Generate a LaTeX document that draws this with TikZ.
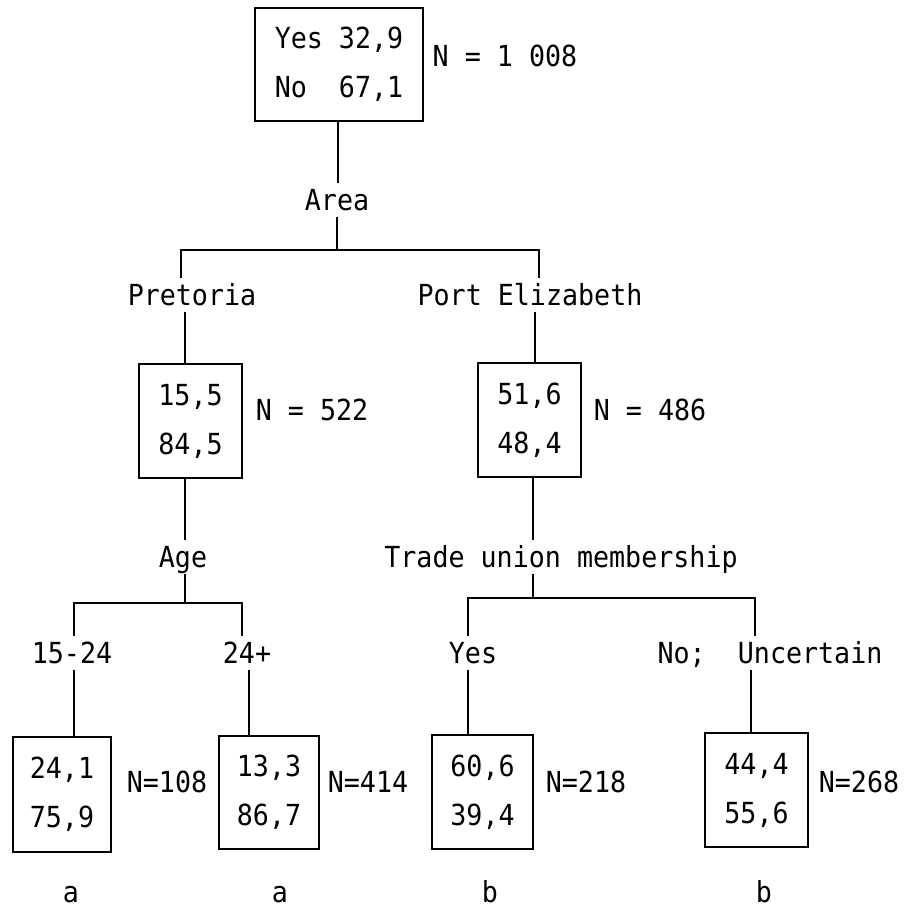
\documentclass[tikz,border=0pt]{standalone}
\usepackage{fontspec}
\newfontfamily\typo[FakeStretch=0.92]{DejaVu Sans Mono}
\begin{document}
\begin{tikzpicture}[x=1pt,y=-1pt,line width=2.5pt,
  txt/.style={font=\typo\fontsize{29}{49}\selectfont},
  lab/.style={txt,inner xsep=0pt,inner ysep=5pt,text height=21pt,text depth=0pt},
  grp/.style={txt,inner xsep=0pt,inner ysep=0pt,text height=21pt,text depth=0pt},
  box/.style={txt,draw,align=center,inner sep=0pt},
  wire/.style={draw,line width=2.5pt}]
\useasboundingbox (0,0) rectangle (909,908);
% boxes
\node[box,minimum width=168pt,minimum height=113pt] (top) at (339,64.5) {Yes 32,9\\No\phantom{s} 67,1};
\node[box,minimum width=103pt,minimum height=114pt] (pbox) at (190.5,421) {15,5\\84,5};
\node[box,minimum width=103pt,minimum height=114pt] (ebox) at (529.5,420) {51,6\\48,4};
\node[box,minimum width=98pt,minimum height=115pt] (b1) at (62,794.5) {24,1\\75,9};
\node[box,minimum width=100pt,minimum height=113pt] (b2) at (269,792.5) {13,3\\86,7};
\node[box,minimum width=101pt,minimum height=114pt] (b3) at (482.5,792) {60,6\\39,4};
\node[box,minimum width=103pt,minimum height=114pt] (b4) at (756.5,790) {44,4\\55,6};
% labels
\node[lab] (area) at (337,200) {Area};
\node[lab] (pret) at (192,295) {Pretoria};
\node[lab] (pe) at (530,295) {Port Elizabeth};
\node[lab] (age) at (183,557) {Age};
\node[lab] (tu) at (561,557) {Trade union membership};
\node[lab] (l1) at (72,653) {15-24};
\node[lab] (l2) at (247,653) {24+};
\node[lab] (l3) at (473,653) {Yes};
\node[lab] (l4) at (770,653) {No;\ \ Uncertain};
% N labels
\node[lab] (n0) at (505,56) {N = 1 008};
\node[lab] (n1) at (312,410) {N = 522};
\node[lab] (n2) at (650,410) {N = 486};
\node[lab] (n3) at (167,782) {N=108};
\node[lab] (n4) at (368,782) {N=414};
\node[lab] (n5) at (586,782) {N=218};
\node[lab] (n6) at (859,782) {N=268};
% group letters
\node[grp] (g1) at (71,892) {a};
\node[grp] (g2) at (280,892) {a};
\node[grp] (g3) at (490,892) {b};
\node[grp] (g4) at (764,892) {b};
% bar coordinates
\coordinate (aL) at (181,250);
\coordinate (aR) at (539,250);
\coordinate (gL) at (74,603);
\coordinate (gR) at (242,603);
\coordinate (tL) at (468,598);
\coordinate (tR) at (755,598);
% connectors
\draw[wire] ([xshift=-1pt]top.south) -- ([xshift=-1pt]top.south |- area.north);
\draw[wire] (area.south) -- (area.south |- aL);
\draw[wire] (aL |- pret.north) -- (aL) -- (aR) -- (aR |- pe.north);
\draw[wire] ([xshift=-5.5pt]pbox.north) -- ([xshift=-5.5pt]pbox.north |- pret.south);
\draw[wire] ([xshift=5.5pt]ebox.north) -- ([xshift=5.5pt]ebox.north |- pe.south);
\draw[wire] ([xshift=-5.5pt]pbox.south) -- ([xshift=-5.5pt]pbox.south |- age.north);
\draw[wire] ([xshift=2pt]age.south) -- ([xshift=2pt]age.south |- gL);
\draw[wire] (gL |- l1.north) -- (gL) -- (gR) -- (gR |- l2.north);
\draw[wire] ([xshift=3.5pt]ebox.south) -- ([xshift=3.5pt]ebox.south |- tu.north);
\draw[wire] ([xshift=-28pt]tu.south) -- ([xshift=-28pt]tu.south |- tL);
\draw[wire] (tL |- l3.north) -- (tL) -- (tR) -- (tR |- l4.north);
\draw[wire] ([xshift=12pt]b1.north) -- ([xshift=12pt]b1.north |- l1.south);
\draw[wire] ([xshift=-20pt]b2.north) -- ([xshift=-20pt]b2.north |- l2.south);
\draw[wire] ([xshift=-14.5pt]b3.north) -- ([xshift=-14.5pt]b3.north |- l3.south);
\draw[wire] ([xshift=-5.5pt]b4.north) -- ([xshift=-5.5pt]b4.north |- l4.south);
\end{tikzpicture}
\end{document}
